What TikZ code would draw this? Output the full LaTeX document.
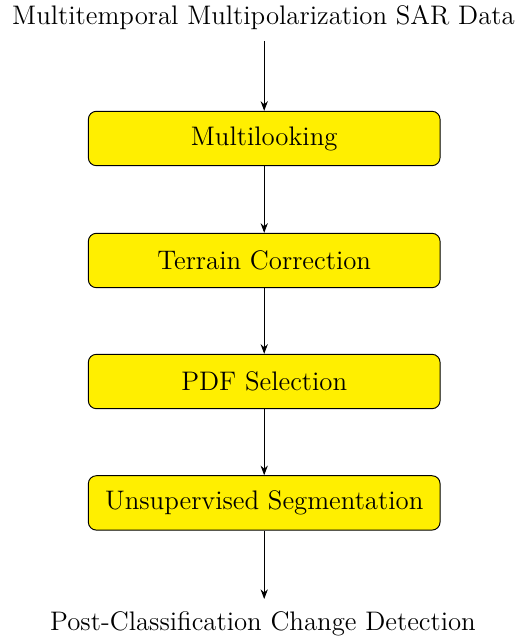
\documentclass[tikz,border=0pt]{standalone}
\usetikzlibrary{arrows.meta}
\definecolor{boxyellow}{RGB}{255,239,0}
\begin{document}
\begin{tikzpicture}[x=0.414pt,y=-0.414pt,
  every node/.style={font=\fontsize{11.1}{13.5}\selectfont},
  stepbox/.style={draw, fill=boxyellow, rounded corners=3.3pt, minimum width=145.6pt, minimum height=22.5pt, inner sep=0pt},
  lbl/.style={inner sep=0pt},
  conn/.style={-{Stealth[length=4pt,width=3pt]}, thin}]
\useasboundingbox (0,0) rectangle (522,637);
\node[lbl] (in) at (263.5,18) {Multitemporal Multipolarization SAR Data};
\node[stepbox] (s1) at (264.2,138.5) {Multilooking};
\node[stepbox] (s2) at (264.2,260.5) {Terrain Correction};
\node[stepbox] (s3) at (264.2,381.5) {PDF Selection};
\node[stepbox] (s4) at (264.2,502.9) {Unsupervised Segmentation};
\node[lbl] (out) at (263,623.4) {Post-Classification Change Detection};
\coordinate (a0) at (264.2,41);
\coordinate (a5) at (264.2,599);
\draw[conn] (a0) -- (s1);
\draw[conn] (s1) -- (s2);
\draw[conn] (s2) -- (s3);
\draw[conn] (s3) -- (s4);
\draw[conn] (s4) -- (a5);
\end{tikzpicture}
\end{document}
